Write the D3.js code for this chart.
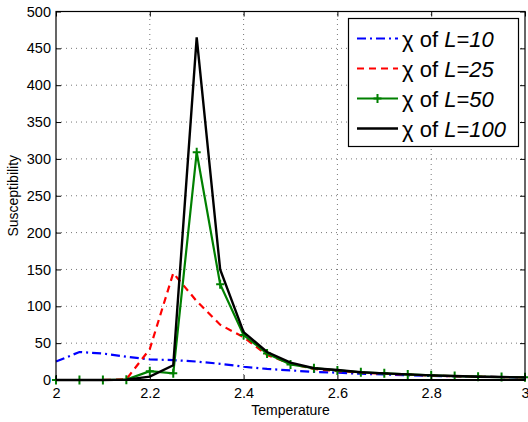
<!DOCTYPE html>
<html><head><meta charset="utf-8">
<script src="https://cdn.jsdelivr.net/npm/d3@7"></script>
<style>
html,body{margin:0;padding:0;background:#fff;}
svg{display:block;font-family:"Liberation Sans",Arial,Helvetica,sans-serif;}
</style></head>
<body>
<script>
const temperature = [2.00,2.05,2.10,2.15,2.20,2.25,2.30,2.35,2.40,2.45,2.50,2.55,2.60,2.65,2.70,2.75,2.80,2.85,2.90,2.95,3.00];
const chiL10  = [25,38,36,31.5,28,27,25,22,18,15,13,11,10,8.5,7.5,6.5,5.5,5,4.5,4,3.5];
const chiL25  = [0,0,0,1,42,145,107,75,58,34,22,15,12,10,8.5,7.5,6,5,4.5,4,3.5];
const chiL50  = [0,0,0,0.5,12,9,309,130,61,36,21,16,13,10.5,9,7.5,6.3,5.3,4.5,4,3.6];
const chiL100 = [0,0,0,0.5,4.5,20,465,150,65,38,23.5,16,13.5,10.5,9,7.7,6.3,5.4,4.5,4,3.6];
const seriesNames = ["L=10","L=25","L=50","L=100"];
const xTicks = [2,2.2,2.4,2.6,2.8,3];
const xTickLabels = ["2","2.2","2.4","2.6","2.8","3"];
const yTicks = [0,50,100,150,200,250,300,350,400,450,500];

const W=528,H=422;
const m={l:56,r:3,t:11.5,b:42};
const svg=d3.select("body").append("svg").attr("width",W).attr("height",H);
const x=d3.scaleLinear().domain([2,3]).range([m.l,W-m.r]);
const y=d3.scaleLinear().domain([0,500]).range([H-m.b,m.t]);
const x0=x.range()[0],x1=x.range()[1],y0=y.range()[0],y1=y.range()[1];

// grid
const g=svg.append("g");
g.selectAll(".gx").data(xTicks.slice(1,-1)).enter().append("line")
 .attr("x1",d=>x(d)).attr("x2",d=>x(d)).attr("y1",y0).attr("y2",y1)
 .attr("stroke","#777").attr("stroke-width",1).attr("stroke-dasharray","1,4");
g.selectAll(".gy").data(yTicks.slice(1,-1)).enter().append("line")
 .attr("y1",d=>y(d)).attr("y2",d=>y(d)).attr("x1",x0).attr("x2",x1)
 .attr("stroke","#777").attr("stroke-width",1).attr("stroke-dasharray","1,4");

// lines
const series=[
 {vals:chiL10,color:"#0000ff",dash:"9,4,2,4",w:2.2},
 {vals:chiL25,color:"#ff0000",dash:"7,5",w:2.2},
 {vals:chiL50,color:"#008000",dash:null,w:2.2,marker:true},
 {vals:chiL100,color:"#000000",dash:null,w:2.4}
];
const line=d3.line().x((d,i)=>x(temperature[i])).y(d=>y(d));
const plot=svg.append("g");
series.forEach(s=>{
  plot.append("path").datum(s.vals).attr("d",line).attr("fill","none")
   .attr("stroke",s.color).attr("stroke-width",s.w).attr("stroke-linejoin","miter")
   .attr("stroke-dasharray",s.dash);
  if(s.marker){
    const mk=plot.append("g");
    s.vals.forEach((v,i)=>{
      const cx=x(temperature[i]),cy=y(v);
      mk.append("path").attr("d",`M${cx-4},${cy}H${cx+4}M${cx},${cy-4.5}V${cy+4.5}`)
        .attr("stroke",s.color).attr("stroke-width",2);
    });
  }
});

// axes box
const ax=svg.append("g");
const xa=d3.axisBottom(x).tickValues(xTicks).tickFormat((d,i)=>xTickLabels[i]).tickSizeInner(-5).tickSizeOuter(0).tickPadding(8);
const xaT=d3.axisTop(x).tickValues(xTicks).tickFormat("").tickSizeInner(-5).tickSizeOuter(0);
const ya=d3.axisLeft(y).tickValues(yTicks).tickSizeInner(-5).tickSizeOuter(0).tickPadding(5);
const yaR=d3.axisRight(y).tickValues(yTicks).tickFormat("").tickSizeInner(-5).tickSizeOuter(0);
function style(sel){
  sel.select(".domain").remove();
  sel.selectAll("line").attr("stroke","#000");
  sel.selectAll("text").attr("fill","#000").style("font-size","14.5px").style("font-family","'Liberation Sans',Arial,sans-serif");
}
ax.append("g").attr("transform",`translate(0,${y0})`).call(xa).call(style);
ax.append("g").attr("transform",`translate(0,${y1})`).call(xaT).call(style);
ax.append("g").attr("transform",`translate(${x0},0)`).call(ya).call(style);
ax.append("g").attr("transform",`translate(${x1},0)`).call(yaR).call(style);
ax.append("rect").attr("x",x0).attr("y",y1).attr("width",x1-x0).attr("height",y0-y1)
  .attr("fill","none").attr("stroke","#000").attr("stroke-width",1.2);
ax.append("line").attr("x1",x0).attr("x2",x1).attr("y1",y0).attr("y2",y0).attr("stroke","#000").attr("stroke-width",2);

// axis labels
svg.append("text").attr("x",(x0+x1)/2).attr("y",415).attr("text-anchor","middle")
  .style("font-size","14px").text("Temperature");
svg.append("text").attr("transform",`translate(18,${(y0+y1)/2}) rotate(-90)`).attr("text-anchor","middle")
  .style("font-size","14px").text("Susceptibility");

// legend
const lg=svg.append("g");
lg.append("rect").attr("x",348.5).attr("y",18.5).attr("width",170).attr("height",128)
  .attr("fill","#fff").attr("stroke","#000").attr("stroke-width",1.2);
series.forEach((s,i)=>{
  const ly=38.5+i*30;
  lg.append("line").attr("x1",357).attr("x2",398).attr("y1",ly).attr("y2",ly)
    .attr("stroke",s.color).attr("stroke-width",s.w).attr("stroke-dasharray",s.dash);
  if(s.marker){
    lg.append("path").attr("d",`M373.5,${ly}H381.5M377.5,${ly-4.5}V${ly+4.5}`).attr("stroke",s.color).attr("stroke-width",2);
  }
  const t=lg.append("text").attr("x",402).attr("y",ly+8).style("font-size","22px");
  t.append("tspan").text("\u03c7 of ");
  t.append("tspan").style("font-style","italic").text(seriesNames[i]);
});
</script>
</body></html>
